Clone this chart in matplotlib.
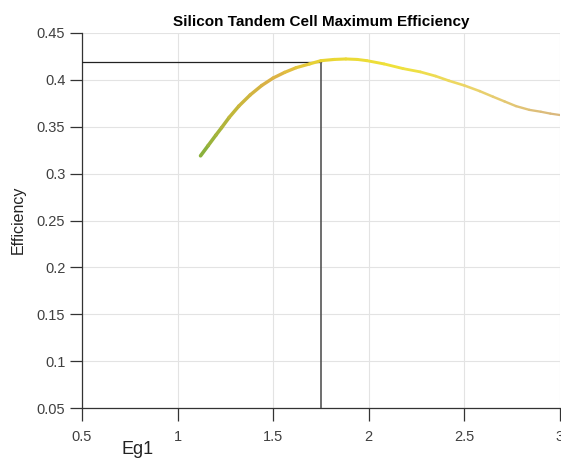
import numpy as np
import matplotlib
matplotlib.use("Agg")
import matplotlib.pyplot as plt
from matplotlib.collections import LineCollection
from matplotlib.colors import LinearSegmentedColormap

# Data
eg1 = [1.12, 1.16, 1.20, 1.23, 1.27, 1.32, 1.38, 1.44, 1.50, 1.56, 1.62, 1.69, 1.75,
       1.82, 1.88, 1.94, 1.99, 2.08, 2.18, 2.27, 2.35, 2.42, 2.50, 2.58, 2.65, 2.71,
       2.77, 2.84, 2.90, 2.95, 3.00]
efficiency = [0.319, 0.330, 0.341, 0.349, 0.360, 0.372, 0.384, 0.394, 0.402, 0.408,
              0.413, 0.417, 0.4205, 0.4218, 0.4223, 0.4218, 0.4205, 0.417, 0.412,
              0.4085, 0.404, 0.399, 0.394, 0.388, 0.382, 0.377, 0.372, 0.368,
              0.366, 0.364, 0.3625]
opt_eg1 = 1.75
opt_eff = 0.419
xticks = [0.5, 1, 1.5, 2, 2.5, 3]
xticklabels = ["0.5", "1", "1.5", "2", "2.5", "3"]
yticks = [0.05, 0.1, 0.15, 0.2, 0.25, 0.3, 0.35, 0.4, 0.45]
yticklabels = ["0.05", "0.1", "0.15", "0.2", "0.25", "0.3", "0.35", "0.4", "0.45"]

plt.rcParams['font.family'] = ['Liberation Sans', 'DejaVu Sans']

fig = plt.figure(figsize=(5.61, 4.58), dpi=100)
ax = fig.add_axes([82/561, 1-408/458, (560-82)/561, (408-33)/458])

ax.set_xlim(0.5, 3.0)
ax.set_ylim(0.05, 0.45)
ax.set_xticks(xticks)
ax.set_xticklabels(xticklabels)
ax.set_yticks(yticks)
ax.set_yticklabels(yticklabels)
ax.grid(True, color='#e3e3e3', linewidth=0.8)
ax.set_axisbelow(True)
for s in ['top', 'right']:
    ax.spines[s].set_visible(False)
for s in ['left', 'bottom']:
    ax.spines[s].set_color('#333333')
    ax.spines[s].set_linewidth(0.9)
ax.tick_params(direction='out', length=9, width=0.9, color='#333333',
               labelsize=10.5, labelcolor='#404040')
ax.tick_params(axis='x', pad=7)
ax.tick_params(axis='y', pad=3)

# reference lines
ax.plot([0.5, opt_eg1], [opt_eff, opt_eff], color='#222222', linewidth=0.9, zorder=3)
ax.plot([opt_eg1, opt_eg1], [0.05, opt_eff], color='#555555', linewidth=1.2, zorder=3)

# gradient curve
x = np.array(eg1)
y = np.array(efficiency)
pts = np.column_stack([x, y]).reshape(-1, 1, 2)
segs = np.concatenate([pts[:-1], pts[1:]], axis=1)
cmap = LinearSegmentedColormap.from_list('c', [
    (0.0, '#86b03c'), (0.10, '#c8b83a'), (0.20, '#dcb048'), (0.33, '#e8d433'),
    (0.55, '#efe23a'), (0.75, '#ecd56a'), (1.0, '#d9b77e')])
mid = (x[:-1] + x[1:]) / 2
cvals = (mid - x.min()) / (x.max() - x.min())
colors = cmap(cvals)
widths = 2.6 - 1.0 * cvals
lc = LineCollection(segs, colors=colors, linewidths=widths, capstyle='round',
                    joinstyle='round', zorder=4)
ax.add_collection(lc)

ax.set_title("Silicon Tandem Cell Maximum Efficiency", fontsize=11, fontweight='bold', pad=5)
fig.text(18/561, 1-220/458, "Efficiency", rotation=90, ha='center', va='center', fontsize=11.5, color='#222222')
fig.text(138/561, 1-449/458, "Eg1", ha='center', va='center', fontsize=13, color='#222222')

fig.savefig("out.png", dpi=100)
